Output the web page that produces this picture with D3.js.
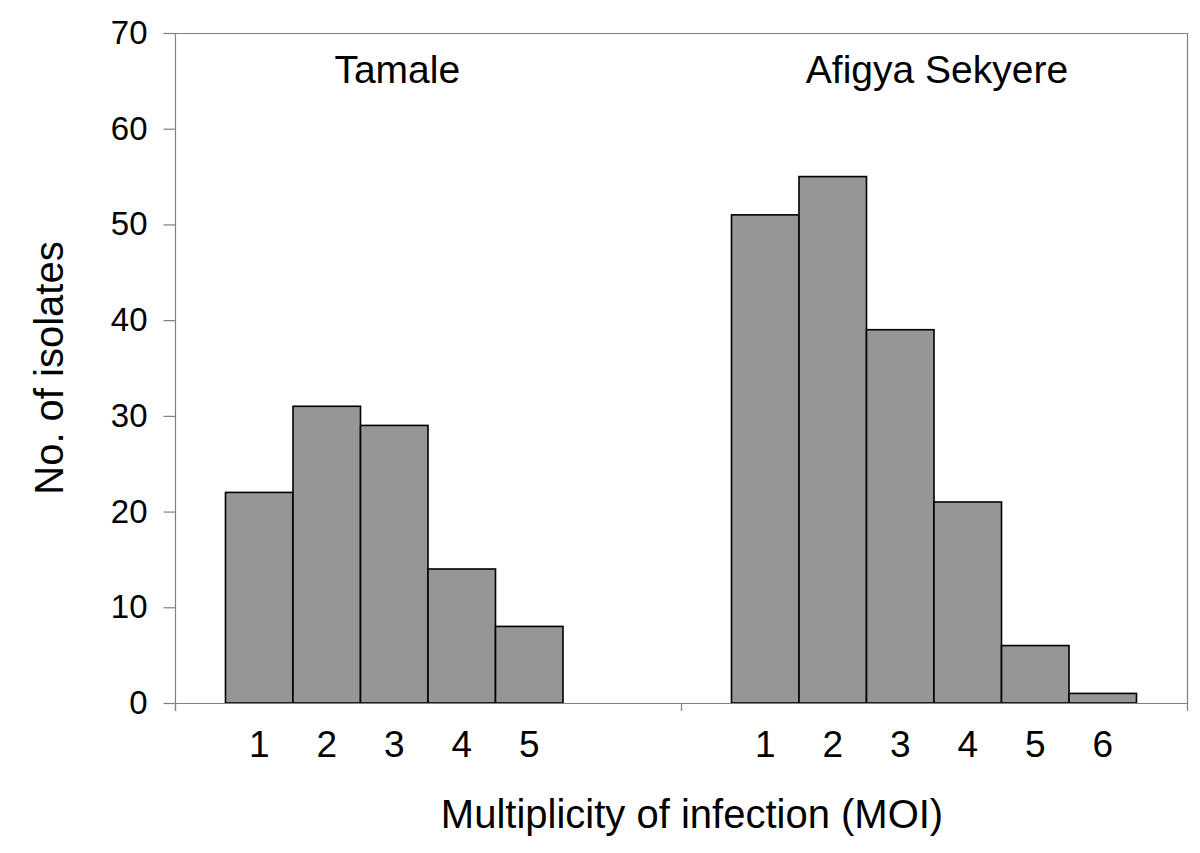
<!DOCTYPE html>
<html>
<head>
<meta charset="utf-8">
<script src="https://cdn.jsdelivr.net/npm/d3@7"></script>
<style>
  html, body { margin: 0; padding: 0; background: #fff; }
  svg { display: block; font-family: "Liberation Sans", Arial, Helvetica, sans-serif; }
</style>
</head>
<body>
<svg id="chart" width="1200" height="853"></svg>
<script>
// ---- data ----
const groups = ["Tamale", "Afigya Sekyere"];
const moiCategories = ["1", "2", "3", "4", "5", "6"];
const tamaleValues = [22, 31, 29, 14, 8];
const afigyaValues = [51, 55, 39, 21, 6, 1];
const yTickValues = [0, 10, 20, 30, 40, 50, 60, 70];
const yTitle = "No. of isolates";
const xTitle = "Multiplicity of infection (MOI)";

const seriesByGroup = [tamaleValues, afigyaValues];

// ---- layout ----
const W = 1200, H = 853;
const margin = { top: 33, right: 13, bottom: 150, left: 175 };
const svg = d3.select("#chart");

const x0 = d3.scaleBand().domain(groups)
  .range([margin.left, W - margin.right]).padding(0);
const x1 = d3.scaleBand().domain(moiCategories)
  .range([0, x0.bandwidth()]).paddingInner(0).paddingOuter(0.748);
const y = d3.scaleLinear().domain([0, 70]).range([H - margin.bottom, margin.top]);

const axisColor = "#808080";

// plot frame (top and right borders)
svg.append("path")
  .attr("d", `M${margin.left + 0.5},${margin.top + 0.5}H${W - margin.right + 0.5}V${H - margin.bottom + 0.5}`)
  .attr("fill", "none").attr("stroke", axisColor).attr("stroke-width", 1.2);

// bars
groups.forEach((g, gi) => {
  const vals = seriesByGroup[gi];
  const data = vals.map((v, i) => ({ cat: moiCategories[i], v }));
  const gg = svg.append("g").attr("transform", `translate(${x0(g)},0)`);
  gg.selectAll("rect").data(data).join("rect")
    .attr("x", d => x1(d.cat))
    .attr("y", d => y(d.v))
    .attr("width", x1.bandwidth())
    .attr("height", d => y(0) - y(d.v))
    .attr("fill", "#969696")
    .attr("stroke", "#000")
    .attr("stroke-width", 1.6);

  // category tick labels under each bar
  gg.selectAll("text.cat").data(data).join("text")
    .attr("class", "cat")
    .attr("x", d => x1(d.cat) + x1.bandwidth() / 2)
    .attr("y", 757)
    .attr("text-anchor", "middle")
    .attr("font-size", 37)
    .attr("fill", "#000")
    .text(d => d.cat);

  // group title, centred over its bars
  const first = x1(data[0].cat);
  const last = x1(data[data.length - 1].cat) + x1.bandwidth();
  gg.append("text")
    .attr("x", (first + last) / 2 + 3)
    .attr("y", 83)
    .attr("text-anchor", "middle")
    .attr("font-size", 39)
    .attr("fill", "#000")
    .text(g);
});

// y axis
const yAxis = d3.axisLeft(y).tickValues(yTickValues).tickSize(12).tickPadding(16);
const yg = svg.append("g").attr("transform", `translate(${margin.left + 0.5},0)`).call(yAxis);
yg.select(".domain").attr("stroke", axisColor).attr("stroke-width", 1.2)
  .attr("d", `M-12,${margin.top + 0.5}H0V${H - margin.bottom + 8}`);
yg.selectAll(".tick line").attr("stroke", axisColor).attr("stroke-width", 1.2);
yg.selectAll(".tick text").attr("font-size", 33).attr("fill", "#000")
  .attr("font-family", "\"Liberation Sans\", Arial, sans-serif");

// x axis (group boundaries)
const xg = svg.append("g");
xg.append("line")
  .attr("x1", margin.left).attr("x2", W - margin.right + 1)
  .attr("y1", y(0) + 0.5).attr("y2", y(0) + 0.5)
  .attr("stroke", axisColor).attr("stroke-width", 1.2);
const boundaries = [x0(groups[0]), x0(groups[1]), x0(groups[1]) + x0.bandwidth()];
xg.selectAll("line.tk").data(boundaries).join("line")
  .attr("class", "tk")
  .attr("x1", d => Math.round(d) + 0.5).attr("x2", d => Math.round(d) + 0.5)
  .attr("y1", y(0)).attr("y2", y(0) + 8)
  .attr("stroke", axisColor).attr("stroke-width", 1.2);

// axis titles
svg.append("text")
  .attr("transform", `translate(63,${(margin.top + H - margin.bottom) / 2})rotate(-90)`)
  .attr("text-anchor", "middle")
  .attr("font-size", 40)
  .attr("fill", "#000")
  .text(yTitle);

svg.append("text")
  .attr("x", 692)
  .attr("y", 828)
  .attr("text-anchor", "middle")
  .attr("font-size", 40)
  .attr("fill", "#000")
  .text(xTitle);
</script>
</body>
</html>
